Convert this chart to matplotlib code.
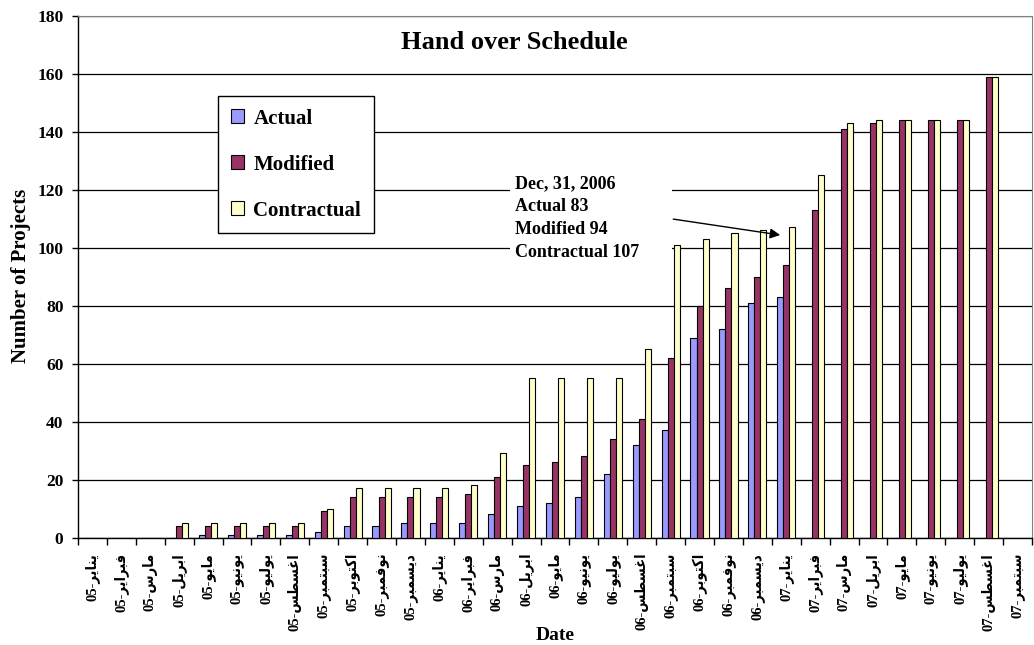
import numpy as np
import matplotlib
matplotlib.use("Agg")
import matplotlib.pyplot as plt
from matplotlib.patches import Rectangle

# month names (Arabic) and years for the x tick labels
month_names = ["يناير", "فبراير", "مارس", "ابريل", "مايو", "يونيو",
               "يوليو", "اغسطس", "سبتمبر", "اكتوبر", "نوفمبر", "ديسمبر"]
years = ["05"] * 12 + ["06"] * 12 + ["07"] * 9

nan = np.nan
actual = [0, 0, 0, 0, 1, 1, 1, 1, 2, 4, 4, 5,
          5, 5, 8, 11, 12, 14, 22, 32, 37, 69, 72, 81,
          83, nan, nan, nan, nan, nan, nan, nan, nan]
modified = [0, 0, 0, 4, 4, 4, 4, 4, 9, 14, 14, 14,
            14, 15, 21, 25, 26, 28, 34, 41, 62, 80, 86, 90,
            94, 113, 141, 143, 144, 144, 144, 159, nan]
contractual = [0, 0, 0, 5, 5, 5, 5, 5, 10, 17, 17, 17,
               17, 18, 29, 55, 55, 55, 55, 65, 101, 103, 105, 106,
               107, 125, 143, 144, 144, 144, 144, 159, nan]

note_lines = ["Dec, 31, 2006", "Actual 83", "Modified 94", "Contractual 107"]

# presentation forms: isolated, final, initial, medial (None = joins only to the right)
forms = {
    "ا": ("\ufe8d", "\ufe8e", None, None),
    "ب": ("\ufe8f", "\ufe90", "\ufe91", "\ufe92"),
    "ت": ("\ufe95", "\ufe96", "\ufe97", "\ufe98"),
    "د": ("\ufea9", "\ufeaa", None, None),
    "ر": ("\ufead", "\ufeae", None, None),
    "س": ("\ufeb1", "\ufeb2", "\ufeb3", "\ufeb4"),
    "ط": ("\ufec1", "\ufec2", "\ufec3", "\ufec4"),
    "غ": ("\ufecd", "\ufece", "\ufecf", "\ufed0"),
    "ف": ("\ufed1", "\ufed2", "\ufed3", "\ufed4"),
    "ك": ("\ufed9", "\ufeda", "\ufedb", "\ufedc"),
    "ل": ("\ufedd", "\ufede", "\ufedf", "\ufee0"),
    "م": ("\ufee1", "\ufee2", "\ufee3", "\ufee4"),
    "ن": ("\ufee5", "\ufee6", "\ufee7", "\ufee8"),
    "و": ("\ufeed", "\ufeee", None, None),
    "ي": ("\ufef1", "\ufef2", "\ufef3", "\ufef4"),
}


def shape(word):
    # matplotlib has no arabic shaping, so pick the joined forms and reverse for display
    out = []
    for i, ch in enumerate(word):
        iso, fin, ini, med = forms[ch]
        joins_prev = i > 0 and forms[word[i - 1]][2] is not None
        joins_next = i < len(word) - 1 and ini is not None
        if joins_prev and joins_next:
            out.append(med)
        elif joins_prev:
            out.append(fin)
        elif joins_next:
            out.append(ini)
        else:
            out.append(iso)
    return "".join(reversed(out))


labels = [y + "-" + shape(month_names[i % 12]) for i, y in enumerate(years)]

plt.rcParams["font.family"] = ["Liberation Serif", "DejaVu Sans"]
plt.rcParams["font.weight"] = "bold"

W, H = 1034, 645
fig = plt.figure(figsize=(W / 100, H / 100), dpi=100)
ax = fig.add_axes([78 / W, 1 - 537.5 / H, 954 / W, 521.5 / H])

x = np.arange(len(labels))
bw = 0.21
ax.bar(x - bw, actual, bw, color="#9999FF", edgecolor="black", linewidth=0.8,
       label="Actual", zorder=3)
ax.bar(x, modified, bw, color="#993366", edgecolor="black", linewidth=0.8,
       label="Modified", zorder=3)
ax.bar(x + bw, contractual, bw, color="#FFFFCC", edgecolor="black", linewidth=0.8,
       label="Contractual", zorder=3)

ax.set_xlim(-0.5, len(labels) - 0.5)
ax.set_ylim(0, 180)
ax.set_yticks(np.arange(0, 181, 20))
ax.yaxis.grid(True, color="black", linewidth=0.9, zorder=0)
ax.set_axisbelow(True)

ax.set_xticks(x)
ax.set_xticklabels(labels, rotation=90, fontsize=10.5, fontweight="bold",
                   fontstretch="condensed")
ax.set_xticks(np.arange(-0.5, len(labels)), minor=True)
ax.tick_params(axis="x", which="major", length=0, pad=11)
ax.tick_params(axis="x", which="minor", length=5, width=1, direction="out")
ax.tick_params(axis="y", length=4.5, width=1, direction="out", labelsize=12.5, pad=6)
for lab in ax.get_yticklabels():
    lab.set_fontweight("bold")

for s in ["top", "right"]:
    ax.spines[s].set_color("#808080")
for s in ["left", "bottom"]:
    ax.spines[s].set_linewidth(1)

fig.text(555 / W, 1 - 635 / H, "Date", fontsize=14, fontweight="bold",
         ha="center", va="center")
fig.text(21 / W, 1 - 276 / H, "Number of Projects", rotation=90, fontsize=15,
         fontweight="bold", ha="center", va="center")

ax.text(0.457, 0.95, "Hand over Schedule", transform=ax.transAxes, fontsize=19,
        fontweight="bold", ha="center", va="center")

# white box behind the note, as in the source
ax.add_patch(Rectangle((0.453, 0.528), 0.17, 0.177, transform=ax.transAxes,
                       facecolor="white", edgecolor="none", zorder=1))
ax.text(14.62, 125.2, "\n".join(note_lines), fontsize=13, fontweight="bold",
        ha="left", va="top", linespacing=1.47, zorder=4)
ax.annotate("", xy=(23.79, 104.4), xytext=(20.09, 109.9),
            arrowprops=dict(arrowstyle="-|>", color="black", lw=1,
                            mutation_scale=15, shrinkA=0, shrinkB=0), zorder=4)

leg = ax.legend(loc="upper left", bbox_to_anchor=(218 / W, 1 - 96 / H),
                bbox_transform=fig.transFigure, fontsize=15, frameon=True,
                fancybox=False, edgecolor="black", framealpha=1,
                handlelength=0.65, handleheight=0.65, handletextpad=0.45,
                labelspacing=1.25, borderpad=0.6, borderaxespad=0)
leg.get_frame().set_linewidth(1)
for t in leg.get_texts():
    t.set_fontweight("bold")

fig.savefig("out.png", dpi=100)
